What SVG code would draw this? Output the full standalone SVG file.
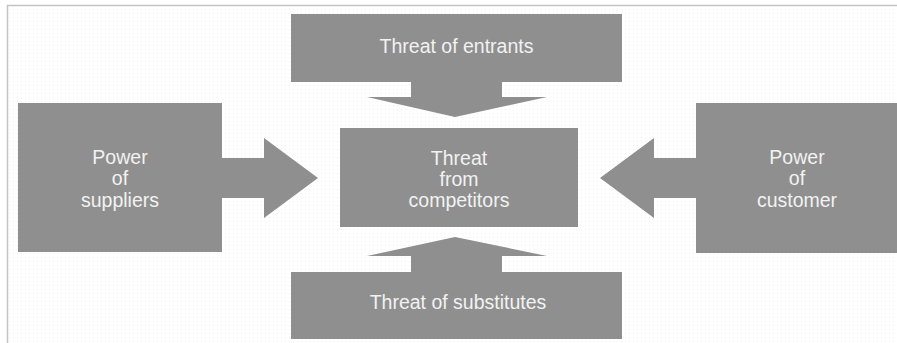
<svg xmlns="http://www.w3.org/2000/svg" width="897" height="343" viewBox="0 0 897 343">
  <defs>
    <pattern id="dots" width="4" height="4" patternUnits="userSpaceOnUse">
      <rect width="4" height="4" fill="#ffffff"/>
      <rect x="1" y="1" width="1" height="1" fill="#f0f0f0"/>
    </pattern>
    <style>
      .shape { fill: #8f8f8f; }
      .lbl { font-family: "Liberation Sans", Arial, sans-serif; font-size: 19.5px; fill: #f2f2f2; text-anchor: middle; }
    </style>
  </defs>
  <rect width="897" height="343" fill="#ffffff"/>
  <rect x="8" y="5.5" width="889" height="338" fill="url(#dots)"/>
  <path d="M7.5 343 V5.5 H897" fill="none" stroke="#c4c4c4" stroke-width="1.5"/>

  <g id="connectors">
    <polygon class="shape" points="411,82 502,82 502,97 547,97 455,117 367,97 411,97"/>
    <polygon class="shape" points="411,272 502,272 502,256 547,256 455,237 367,256 411,256"/>
    <polygon class="shape" points="222,158 264,158 264,138 318,178 264,218 264,198 222,198"/>
    <polygon class="shape" points="696,158 654,158 654,138 600,178 654,218 654,198 696,198"/>
  </g>

  <g id="entrants">
    <rect class="shape" x="291" y="14" width="331" height="68"/>
    <text class="lbl" x="456.5" y="53">Threat of entrants</text>
  </g>
  <g id="suppliers">
    <rect class="shape" x="18" y="103" width="204" height="149"/>
    <text class="lbl" x="120" y="164">Power</text>
    <text class="lbl" x="120" y="185">of</text>
    <text class="lbl" x="120" y="207">suppliers</text>
  </g>
  <g id="competitors">
    <rect class="shape" x="340" y="128" width="238" height="99"/>
    <text class="lbl" x="459" y="165">Threat</text>
    <text class="lbl" x="459" y="186">from</text>
    <text class="lbl" x="459" y="207">competitors</text>
  </g>
  <g id="customer">
    <rect class="shape" x="696" y="103" width="201" height="150"/>
    <text class="lbl" x="797" y="164">Power</text>
    <text class="lbl" x="797" y="185">of</text>
    <text class="lbl" x="797" y="207">customer</text>
  </g>
  <g id="substitutes">
    <rect class="shape" x="291" y="272" width="331" height="67"/>
    <text class="lbl" x="458" y="309">Threat of substitutes</text>
  </g>
</svg>
